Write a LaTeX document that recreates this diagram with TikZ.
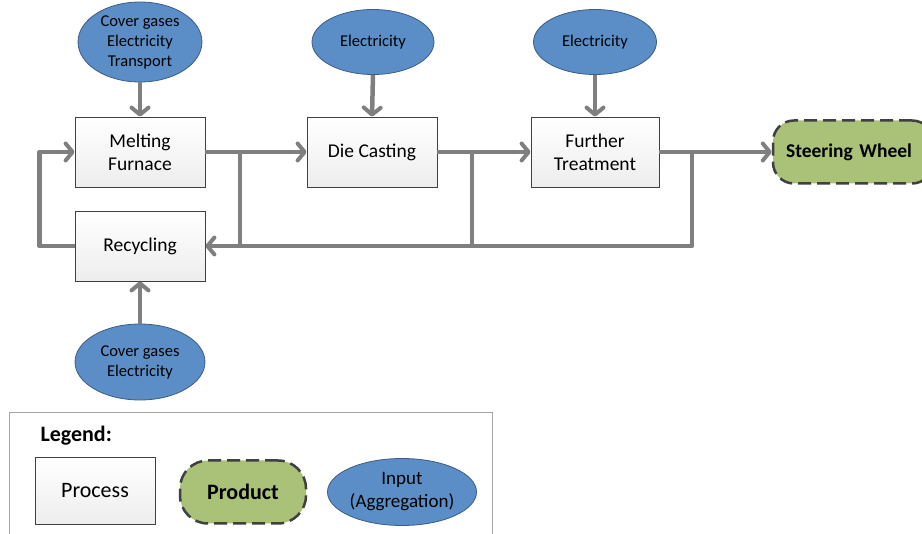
\documentclass[tikz,border=0pt]{standalone}
\usepackage{fontspec}
\setmainfont{Carlito}
\usetikzlibrary{arrows.meta,shapes.geometric}

\definecolor{inblue}{RGB}{91,142,198}
\definecolor{inedge}{RGB}{58,92,135}
\definecolor{prodgreen}{RGB}{170,193,120}
\definecolor{linegray}{RGB}{127,127,127}
\definecolor{edgegray}{RGB}{64,64,64}

\tikzset{
  process/.style={draw=edgegray, line width=0.8pt, top color=white, bottom color=gray!14,
    minimum width=130pt, minimum height=70pt, align=center, inner sep=0pt,
    font=\fontsize{19.5}{23}\selectfont},
  inputell/.style={ellipse, draw=inedge, line width=0.8pt, fill=inblue, align=center,
    inner sep=0pt, font=\fontsize{16.5}{20}\selectfont},
  product/.style={draw=edgegray, dash pattern=on 13pt off 6pt, line width=2.5pt,
    fill=prodgreen, rounded corners=21pt, align=center, inner sep=0pt,
    font=\bfseries\fontsize{19.5}{23}\selectfont},
  flow/.style={draw=linegray, line width=4.5pt, line join=round,
    -{Straight Barb[length=7pt,width=17pt,line width=4pt,round]}},
  branch/.style={draw=linegray, line width=4.5pt, line join=round},
  legendbox/.style={draw=gray!70, line width=1pt, fill=white}
}

\begin{document}
\begin{tikzpicture}[x=1pt,y=-1pt]
\useasboundingbox (0,0) rectangle (922,534);

% legend frame
\draw[legendbox] (9,413) rectangle (492,560);

% process boxes
\node[process] (mf) at (140,152) {Melting\\Furnace};
\node[process] (dc) at (372,152) {Die Casting};
\node[process, minimum width=128pt] (ft) at (595,152) {Further\\Treatment};
\node[process] (rc) at (140,246) {Recycling};

% product
\node[product, minimum width=160pt, minimum height=63pt, text width=150pt] (sw) at (853,152) {\hspace*{-8pt}Steering Wheel};

% inputs
\node[inputell, minimum width=124pt, minimum height=80pt] (in1) at (140,42) {Cover gases\\Electricity\\Transport};
\node[inputell, minimum width=122pt, minimum height=65pt] (in2) at (373,42) {Electricity};
\node[inputell, minimum width=123pt, minimum height=65pt] (in3) at (595,42) {Electricity};
\node[inputell, minimum width=130pt, minimum height=76pt] (in4) at (140,362) {Cover gases\\Electricity};

% junction coordinates
\coordinate (j1) at (240,152);
\coordinate (j2) at (472,152);
\coordinate (j3) at (692,152);

% connectors
\draw[flow] (in1.south) -- (mf.north);
\draw[flow] (in2.south) -- (dc.north);
\draw[flow] (in3.south) -- (ft.north);
\draw[flow] (in4.north) -- (rc.south);
\draw[flow] (mf.east) -- (dc.west);
\draw[flow] (dc.east) -- (ft.west);
\draw[flow] (ft.east) -- (sw.west);
\draw[branch] (j1) -- (j1 |- rc.east);
\draw[branch] (j2) -- (j2 |- rc.east);
\draw[flow] (j3) |- (rc.east);
\draw[flow] (rc.west) -- ++(-35,0) |- (mf.west);

% legend
\node[anchor=west, font=\bfseries\fontsize{22}{26}\selectfont] (lg) at (37,436) {Legend:};
\node[process, minimum width=120pt, minimum height=67pt, font=\fontsize{22}{26}\selectfont] (lp) at (95,491) {Process};
\node[product, minimum width=126pt, minimum height=63pt, rounded corners=28pt, font=\bfseries\fontsize{22}{26}\selectfont] (lpr) at (243,492) {Product};
\node[inputell, minimum width=149pt, minimum height=67pt, font=\fontsize{19}{23}\selectfont] (lin) at (402,492) {Input\\(Aggregation)};
\end{tikzpicture}
\end{document}
